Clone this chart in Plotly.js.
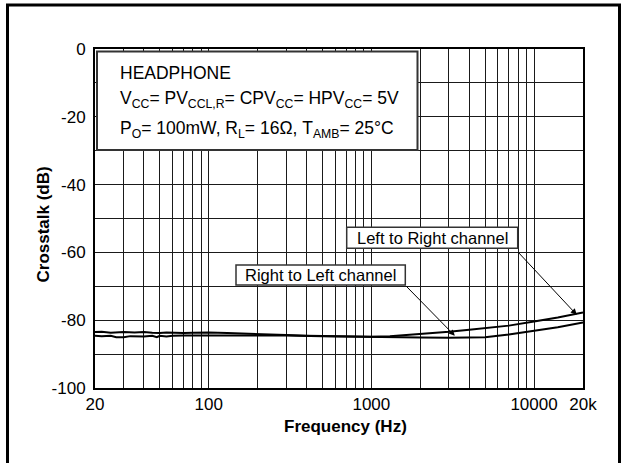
<!DOCTYPE html>
<html>
<head>
<meta charset="utf-8">
<script src="https://cdn.plot.ly/plotly-3.0.1.min.js"></script>
<style>
html,body{margin:0;padding:0;background:#fff;}
#chart{width:622px;height:463px;}
</style>
</head>
<body>
<div id="chart"></div>
<script>
// Data
const freqLR = [20, 22, 25, 28, 30, 35, 40, 45, 50, 55, 60, 70, 80, 100, 130, 160, 200, 300, 400, 600, 800, 1000, 1300, 1600, 2000, 3000, 4000, 5000, 7000, 10000, 14000, 20000];
const crosstalkLR = [-83.5, -83.4, -83.7, -83.6, -83.5, -83.6, -83.5, -83.7, -83.8, -83.6, -83.7, -83.8, -83.7, -83.6, -83.8, -83.9, -84.1, -84.4, -84.6, -84.8, -84.9, -84.9, -84.7, -84.4, -84.1, -83.4, -82.8, -82.4, -81.6, -80.4, -79.2, -77.7];

const freqRL = [20, 22, 25, 27, 30, 33, 40, 45, 48, 50, 55, 60, 70, 80, 100, 130, 160, 200, 300, 500, 800, 1000, 1500, 2000, 3000, 4000, 5000, 7000, 10000, 14000, 20000];
const crosstalkRL = [-84.6, -84.7, -84.6, -85.0, -85.0, -84.7, -84.8, -84.6, -85.0, -84.6, -84.8, -84.6, -84.5, -84.5, -84.4, -84.4, -84.3, -84.4, -84.5, -84.7, -84.9, -85.0, -85.1, -85.1, -85.2, -85.2, -85.0, -84.2, -83.2, -82.1, -80.7];

const xTickVals = [20, 100, 1000, 10000, 20000];
const xTickText = ['20', '100', '1000', '10000', '20k'];
const xGridVals = [30, 40, 50, 60, 70, 80, 90, 200, 300, 400, 500, 600, 700, 800, 900, 2000, 3000, 4000, 5000, 6000, 7000, 8000, 9000];
const yTickVals = [-100, -80, -60, -40, -20, 0];
const yTickText = ['-100', '-80', '-60', '-40', '-20', '0'];

const FONT = 'Liberation Sans, Arial, Helvetica, sans-serif';

const traces = [
  {x: freqLR, y: crosstalkLR, name: 'Left to Right channel', type: 'scatter', mode: 'lines',
   line: {color: '#000', width: 2}, hoverinfo: 'skip'},
  {x: freqRL, y: crosstalkRL, name: 'Right to Left channel', type: 'scatter', mode: 'lines',
   line: {color: '#000', width: 2}, hoverinfo: 'skip'}
];

// pixel helpers (plot area: x 95..583, y 49..388)
const px = v => (v - 95) / 488;
const py = v => (388 - v) / 339;

const layout = {
  width: 622, height: 463,
  margin: {l: 95, r: 39, t: 49, b: 75},
  paper_bgcolor: '#fff', plot_bgcolor: '#fff',
  showlegend: false,
  font: {family: FONT, size: 17, color: '#000'},
  xaxis: {
    type: 'log', range: [Math.log10(20), Math.log10(20000)],
    tickmode: 'array', tickvals: xTickVals, ticktext: xTickText,
    showgrid: true, gridcolor: '#1a1a1a', gridwidth: 1,
    minor: {tickmode: 'array', tickvals: xGridVals, showgrid: true, gridcolor: '#1a1a1a', gridwidth: 1, ticks: ''},
    showline: true, mirror: true, linecolor: '#000', linewidth: 2,
    ticks: '', tickfont: {family: FONT, size: 17, color: '#000'},
    zeroline: false, fixedrange: true
  },
  yaxis: {
    range: [-100, 0],
    tickmode: 'array', tickvals: yTickVals, ticktext: yTickText,
    showgrid: true, gridcolor: '#1a1a1a', gridwidth: 1,
    minor: {dtick: 10, tick0: 0, showgrid: true, gridcolor: '#1a1a1a', gridwidth: 1, ticks: ''},
    showline: true, mirror: true, linecolor: '#000', linewidth: 2,
    ticks: '', ticklabelstandoff: 4,
    tickfont: {family: FONT, size: 17, color: '#000'},
    zeroline: false, fixedrange: true
  },
  shapes: [
    // outer frame
    {type: 'rect', xref: 'paper', yref: 'paper', x0: px(7.5), x1: px(619.5), y0: py(480), y1: py(5),
     line: {color: '#000', width: 3}, fillcolor: 'rgba(0,0,0,0)', layer: 'above'},
    // condition box
    {type: 'rect', xref: 'paper', yref: 'paper', x0: px(97), x1: px(417.5), y0: py(150), y1: py(51.5),
     line: {color: '#333', width: 2}, fillcolor: '#fff', layer: 'above'},
    // label boxes
    {type: 'rect', xref: 'paper', yref: 'paper', x0: px(346.7), x1: px(517.7), y0: py(248.3), y1: py(227.3),
     line: {color: '#333', width: 1.5}, fillcolor: '#fff', layer: 'above'},
    {type: 'rect', xref: 'paper', yref: 'paper', x0: px(236), x1: px(405.3), y0: py(285), y1: py(265),
     line: {color: '#333', width: 1.5}, fillcolor: '#fff', layer: 'above'}
  ],
  annotations: [
    {xref: 'paper', yref: 'paper', x: px(118), y: py(73), xanchor: 'left', yanchor: 'middle', showarrow: false,
     text: 'HEADPHONE', font: {family: FONT, size: 17.5, color: '#000'}},
    {xref: 'paper', yref: 'paper', x: px(118), y: py(99), xanchor: 'left', yanchor: 'middle', showarrow: false,
     text: 'V<sub>CC</sub>= PV<sub>CCL,R</sub>= CPV<sub>CC</sub>= HPV<sub>CC</sub>= 5V', font: {family: FONT, size: 17.5, color: '#000'}},
    {xref: 'paper', yref: 'paper', x: px(118), y: py(129), xanchor: 'left', yanchor: 'middle', showarrow: false,
     text: 'P<sub>O</sub>= 100mW, R<sub>L</sub>= 16Ω, T<sub>AMB</sub>= 25°C', font: {family: FONT, size: 17.5, color: '#000'}},
    {xref: 'paper', yref: 'paper', x: px(432.2), y: py(237.8), xanchor: 'center', yanchor: 'middle', showarrow: false,
     text: 'Left to Right channel', font: {family: FONT, size: 16.5, color: '#000'}},
    {xref: 'paper', yref: 'paper', x: px(320.7), y: py(275), xanchor: 'center', yanchor: 'middle', showarrow: false,
     text: 'Right to Left channel', font: {family: FONT, size: 16.5, color: '#000'}},
    // arrows
    {xref: 'x', yref: 'y', x: Math.log10(18300), y: -78.4, text: '', showarrow: true,
     ax: -59.6, ay: -63.7, arrowhead: 2, arrowsize: 1.2, arrowwidth: 1, arrowcolor: '#000'},
    {xref: 'x', yref: 'y', x: Math.log10(3260), y: -84.6, text: '', showarrow: true,
     ax: -50, ay: -51, arrowhead: 2, arrowsize: 1.2, arrowwidth: 1, arrowcolor: '#000'},
    // axis titles
    {xref: 'paper', yref: 'paper', x: px(345), y: py(426), xanchor: 'center', yanchor: 'middle', showarrow: false,
     text: '<b>Frequency (Hz)</b>', font: {family: FONT, size: 17, color: '#000'}},
    {xref: 'paper', yref: 'paper', x: px(43), y: py(224.5), xanchor: 'center', yanchor: 'middle', showarrow: false,
     textangle: -90, text: '<b>Crosstalk (dB)</b>', font: {family: FONT, size: 17, color: '#000'}}
  ]
};

Plotly.newPlot('chart', traces, layout, {staticPlot: true, displayModeBar: false});
</script>
</body>
</html>
